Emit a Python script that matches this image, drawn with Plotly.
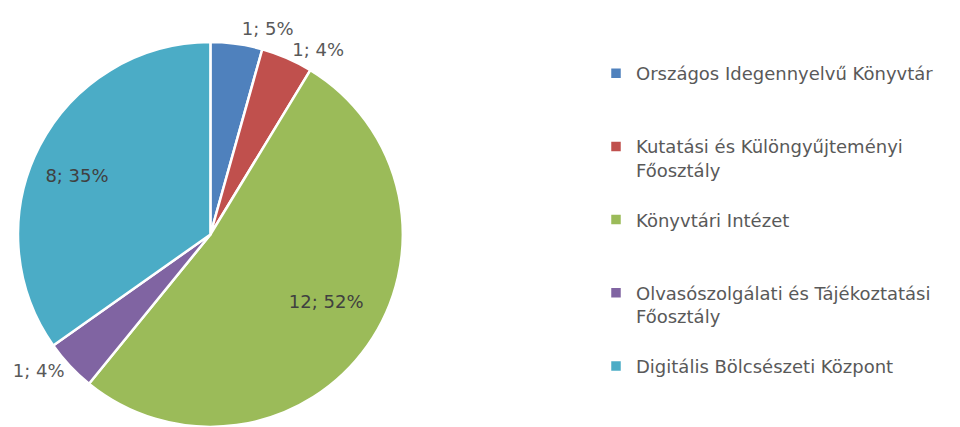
import plotly.graph_objects as go

categories = [
    "Országos Idegennyelvű Könyvtár",
    "Kutatási és Különgyűjteményi<br>Főosztály",
    "Könyvtári Intézet",
    "Olvasószolgálati és Tájékoztatási<br>Főosztály",
    "Digitális Bölcsészeti Központ",
]
values = [1, 1, 12, 1, 8]
pct_labels = ["5%", "4%", "52%", "4%", "35%"]
colors = ["#4F81BD", "#C0504D", "#9BBB59", "#8064A2", "#4BACC6"]
label_pos = ["outside", "outside", "inside", "outside", "inside"]

# pad legend entries so each occupies 3 lines (Excel spacing)
legend_names = []
for c in categories:
    n = c.count("<br>") + 1
    legend_names.append(c + "<br> " * (3 - n))

NB = "\u00a0"
# label text colour set inline so that plotly's label connector (drawn in
# outsidetextfont colour) stays invisible against the white background.
# Inside labels get invisible padding so they sit where Excel put them.
base = "<span style='color:%s'>%%{value}; %%{text}</span>"
templates = [
    base % "#595959",
    base % "#595959",
    NB + "<br>" + NB * 13 + (base % "#404040"),
    base % "#595959",
    (base % "#404040") + NB * 15 + "<br>" + NB,
]

FONT = "DejaVu Sans"
FS = 18
BODY = 8  # default page body margin
W, H = 960 - BODY, 427 - BODY
top = 42 - BODY
cx = 210 - BODY
diam = 385
left = cx - diam / 2

fig = go.Figure(go.Pie(
    labels=legend_names,
    values=values,
    text=pct_labels,
    texttemplate=templates,
    textposition=label_pos,
    insidetextorientation="horizontal",
    sort=False,
    direction="clockwise",
    rotation=0,
    marker=dict(colors=colors, line=dict(color="white", width=2.5)),
    textfont=dict(family=FONT, size=FS, color="#595959"),
    insidetextfont=dict(family=FONT, size=FS, color="#404040"),
    outsidetextfont=dict(family=FONT, size=FS, color="#FFFFFF"),
    domain=dict(x=[0, diam / (W - left)], y=[0, 1]),
    hoverinfo="label+value+percent",
))

fig.update_layout(
    width=W, height=H,
    margin=dict(l=left, r=0, t=top, b=0, autoexpand=False),
    paper_bgcolor="white",
    plot_bgcolor="white",
    showlegend=True,
    legend=dict(
        xref="container", yref="container",
        x=(596 - BODY) / W, y=1 - (55 - BODY) / H,
        xanchor="left", yanchor="top",
        valign="top",
        maxheight=400,
        font=dict(family=FONT, size=FS, color="#595959"),
        bgcolor="rgba(0,0,0,0)",
    ),
    font=dict(family=FONT),
)

fig.write_html("out.html")
